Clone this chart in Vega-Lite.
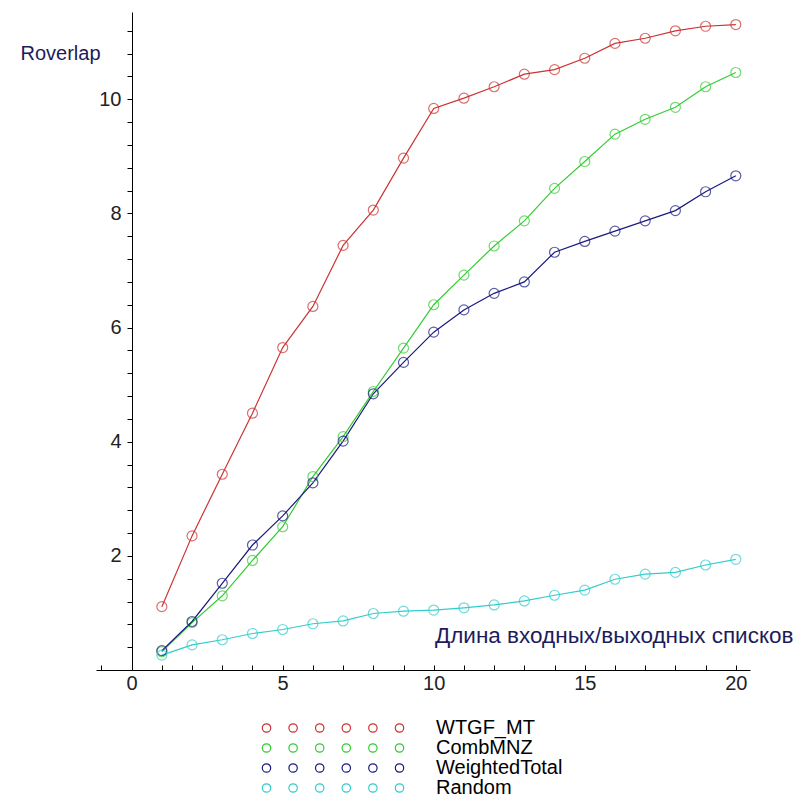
{
  "$schema": "https://vega.github.io/schema/vega-lite/v6.json",
  "width": 654,
  "height": 658,
  "autosize": {"type": "none"},
  "padding": {"left": 96, "top": 12, "right": 48, "bottom": 128},
  "background": "white",
  "config": {"view": {"stroke": null}, "font": "Liberation Sans"},
  "data": {"values": [
    {"series": "WTGF_MT", "n": 1, "r": 1.11}, {"series": "WTGF_MT", "n": 2, "r": 2.35}, {"series": "WTGF_MT", "n": 3, "r": 3.43}, {"series": "WTGF_MT", "n": 4, "r": 4.50}, {"series": "WTGF_MT", "n": 5, "r": 5.65},
    {"series": "WTGF_MT", "n": 6, "r": 6.37}, {"series": "WTGF_MT", "n": 7, "r": 7.44}, {"series": "WTGF_MT", "n": 8, "r": 8.06}, {"series": "WTGF_MT", "n": 9, "r": 8.97}, {"series": "WTGF_MT", "n": 10, "r": 9.84},
    {"series": "WTGF_MT", "n": 11, "r": 10.02}, {"series": "WTGF_MT", "n": 12, "r": 10.22}, {"series": "WTGF_MT", "n": 13, "r": 10.44}, {"series": "WTGF_MT", "n": 14, "r": 10.52}, {"series": "WTGF_MT", "n": 15, "r": 10.72},
    {"series": "WTGF_MT", "n": 16, "r": 10.98}, {"series": "WTGF_MT", "n": 17, "r": 11.07}, {"series": "WTGF_MT", "n": 18, "r": 11.20}, {"series": "WTGF_MT", "n": 19, "r": 11.28}, {"series": "WTGF_MT", "n": 20, "r": 11.31},
    {"series": "CombMNZ", "n": 1, "r": 0.32}, {"series": "CombMNZ", "n": 2, "r": 0.83}, {"series": "CombMNZ", "n": 3, "r": 1.30}, {"series": "CombMNZ", "n": 4, "r": 1.92}, {"series": "CombMNZ", "n": 5, "r": 2.51},
    {"series": "CombMNZ", "n": 6, "r": 3.39}, {"series": "CombMNZ", "n": 7, "r": 4.09}, {"series": "CombMNZ", "n": 8, "r": 4.88}, {"series": "CombMNZ", "n": 9, "r": 5.64}, {"series": "CombMNZ", "n": 10, "r": 6.40},
    {"series": "CombMNZ", "n": 11, "r": 6.92}, {"series": "CombMNZ", "n": 12, "r": 7.43}, {"series": "CombMNZ", "n": 13, "r": 7.87}, {"series": "CombMNZ", "n": 14, "r": 8.44}, {"series": "CombMNZ", "n": 15, "r": 8.91},
    {"series": "CombMNZ", "n": 16, "r": 9.39}, {"series": "CombMNZ", "n": 17, "r": 9.65}, {"series": "CombMNZ", "n": 18, "r": 9.86}, {"series": "CombMNZ", "n": 19, "r": 10.22}, {"series": "CombMNZ", "n": 20, "r": 10.47},
    {"series": "WeightedTotal", "n": 1, "r": 0.34}, {"series": "WeightedTotal", "n": 2, "r": 0.85}, {"series": "WeightedTotal", "n": 3, "r": 1.52}, {"series": "WeightedTotal", "n": 4, "r": 2.19}, {"series": "WeightedTotal", "n": 5, "r": 2.70},
    {"series": "WeightedTotal", "n": 6, "r": 3.28}, {"series": "WeightedTotal", "n": 7, "r": 4.01}, {"series": "WeightedTotal", "n": 8, "r": 4.84}, {"series": "WeightedTotal", "n": 9, "r": 5.39}, {"series": "WeightedTotal", "n": 10, "r": 5.92},
    {"series": "WeightedTotal", "n": 11, "r": 6.31}, {"series": "WeightedTotal", "n": 12, "r": 6.60}, {"series": "WeightedTotal", "n": 13, "r": 6.80}, {"series": "WeightedTotal", "n": 14, "r": 7.32}, {"series": "WeightedTotal", "n": 15, "r": 7.51},
    {"series": "WeightedTotal", "n": 16, "r": 7.69}, {"series": "WeightedTotal", "n": 17, "r": 7.87}, {"series": "WeightedTotal", "n": 18, "r": 8.05}, {"series": "WeightedTotal", "n": 19, "r": 8.38}, {"series": "WeightedTotal", "n": 20, "r": 8.66},
    {"series": "Random", "n": 1, "r": 0.26}, {"series": "Random", "n": 2, "r": 0.44}, {"series": "Random", "n": 3, "r": 0.53}, {"series": "Random", "n": 4, "r": 0.64}, {"series": "Random", "n": 5, "r": 0.71},
    {"series": "Random", "n": 6, "r": 0.81}, {"series": "Random", "n": 7, "r": 0.86}, {"series": "Random", "n": 8, "r": 0.99}, {"series": "Random", "n": 9, "r": 1.03}, {"series": "Random", "n": 10, "r": 1.05},
    {"series": "Random", "n": 11, "r": 1.09}, {"series": "Random", "n": 12, "r": 1.14}, {"series": "Random", "n": 13, "r": 1.21}, {"series": "Random", "n": 14, "r": 1.31}, {"series": "Random", "n": 15, "r": 1.40},
    {"series": "Random", "n": 16, "r": 1.59}, {"series": "Random", "n": 17, "r": 1.68}, {"series": "Random", "n": 18, "r": 1.71}, {"series": "Random", "n": 19, "r": 1.84}, {"series": "Random", "n": 20, "r": 1.94}
  ]},
  "encoding": {
    "x": {
      "field": "n", "type": "quantitative",
      "scale": {"domain": [-1.18, 20.47], "nice": false, "zero": false},
      "axis": {
        "values": [-1, 0, 1, 2, 3, 4, 5, 6, 7, 8, 9, 10, 11, 12, 13, 14, 15, 16, 17, 18, 19, 20],
        "labelExpr": "datum.value % 5 == 0 ? format(datum.value, 'd') : ''",
        "grid": false, "domainColor": "black", "tickColor": "black", "tickSize": -5,
        "labelFontSize": 20, "labelColor": "#222", "labelPadding": 8, "labelFlush": false, "labelOverlap": false,
        "title": "Длина входных/выходных списков", "titleFontSize": 22.5, "titleFontWeight": "normal", "titleColor": "#1c1c5c",
        "titleX": 697, "titleY": -28, "titleAlign": "right", "titleBaseline": "alphabetic", "titleAnchor": "end"
      }
    },
    "y": {
      "field": "r", "type": "quantitative",
      "scale": {"domain": [0, 11.53], "nice": false},
      "axis": {
        "offset": -36,
        "values": [0.4, 0.8, 1.2, 1.6, 2, 2.4, 2.8, 3.2, 3.6, 4, 4.4, 4.8, 5.2, 5.6, 6, 6.4, 6.8, 7.2, 7.6, 8, 8.4, 8.8, 9.2, 9.6, 10, 10.4, 10.8, 11.2],
        "labelExpr": "datum.value % 2 == 0 ? format(datum.value, 'd') : ''",
        "grid": false, "domainColor": "black", "tickColor": "black", "tickSize": 5,
        "labelFontSize": 20, "labelColor": "#222", "labelPadding": 6, "labelOverlap": false, "labelFlush": false,
        "title": "Roverlap", "titleFontSize": 20, "titleFontWeight": "normal", "titleColor": "#1c1c5c",
        "titleAngle": 0, "titleX": -112, "titleY": 47, "titleAlign": "left", "titleBaseline": "alphabetic"
      }
    },
    "color": {
      "field": "series", "type": "nominal",
      "scale": {"domain": ["WTGF_MT", "CombMNZ", "WeightedTotal", "Random"], "range": ["#cc3333", "#33cc33", "#1a1a80", "#33cccc"]},
      "legend": {
        "orient": "none", "legendX": 157, "legendY": 706, "title": null, "padding": 0,
        "symbolType": "M-14.14,0A0.84,0.84,0,1,1,-12.46,0A0.84,0.84,0,1,1,-14.14,0ZM-8.82,0A0.84,0.84,0,1,1,-7.14,0A0.84,0.84,0,1,1,-8.82,0ZM-3.5,0A0.84,0.84,0,1,1,-1.82,0A0.84,0.84,0,1,1,-3.5,0ZM1.82,0A0.84,0.84,0,1,1,3.5,0A0.84,0.84,0,1,1,1.82,0ZM7.14,0A0.84,0.84,0,1,1,8.82,0A0.84,0.84,0,1,1,7.14,0ZM12.46,0A0.84,0.84,0,1,1,14.14,0A0.84,0.84,0,1,1,12.46,0Z",
        "symbolSize": 100, "symbolStrokeWidth": 1.2, "symbolOffset": 70,
        "labelOffset": 93, "labelFontSize": 20, "labelColor": "black", "rowPadding": 0,
        "encode": {"symbols": {"update": {"fill": {"value": "transparent"}}}}
      }
    }
  },
  "layer": [
    {"mark": {"type": "line", "strokeWidth": 1.2}},
    {"mark": {"type": "point", "shape": "circle", "filled": false, "size": 100, "strokeWidth": 1.2}}
  ]
}
